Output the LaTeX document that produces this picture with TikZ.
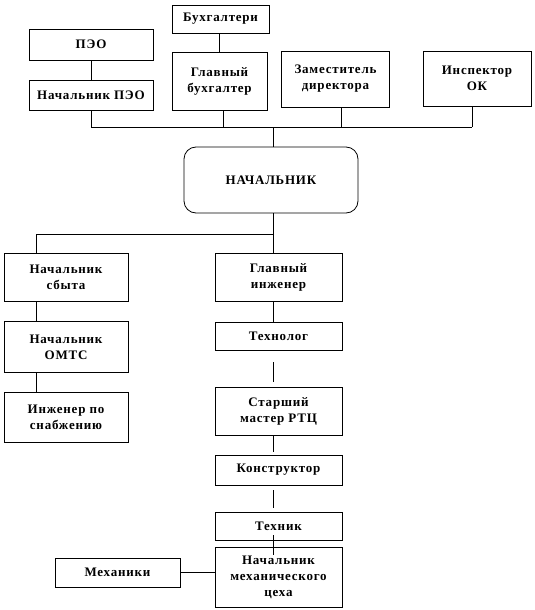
\documentclass[tikz,border=0pt]{standalone}
\usepackage{fontspec}
\newfontfamily\orgfont{Liberation Serif}[LetterSpace=6]

\begin{document}
\begin{tikzpicture}[x=1pt,y=-1pt,line width=0.8pt,
  unit/.style={draw,align=center,inner sep=0pt,
    font=\orgfont\bfseries\fontsize{13}{16}\selectfont},
  chief/.style={unit,rounded corners=12pt}]
\useasboundingbox (0,0) rectangle (535,610);
% top row
\node[unit,minimum width=97pt,minimum height=28pt] (buh) at (220.5,19) {Бухгалтери};
\node[unit,minimum width=124pt,minimum height=31pt] (peo) at (91,44.5) {ПЭО};
\node[unit,minimum width=124pt,minimum height=30pt] (npeo) at (91,95) {Начальник ПЭО};
\node[unit,minimum width=95pt,minimum height=58pt] (gbuh) at (219.5,81) {Главный\\бухгалтер};
\node[unit,minimum width=108pt,minimum height=56pt] (zam) at (335.5,79) {Заместитель\\директора};
\node[unit,minimum width=108pt,minimum height=55pt] (insp) at (477,78.5) {Инспектор\\ОК};
% chief
\node[chief,minimum width=174pt,minimum height=66pt] (nach) at (271,180) {НАЧАЛЬНИК};
% left column
\node[unit,minimum width=124pt,minimum height=48pt] (nsb) at (66,277) {Начальник\\сбыта};
\node[unit,minimum width=124pt,minimum height=51pt] (omts) at (66,347) {Начальник\\ОМТС};
\node[unit,minimum width=124pt,minimum height=50pt] (isn) at (66,417) {Инженер по\\снабжению};
% right column
\node[unit,minimum width=127pt,minimum height=48pt] (gi) at (278.5,277) {Главный\\инженер};
\node[unit,minimum width=127pt,minimum height=28pt] (tehn) at (278.5,336) {Технолог};
\node[unit,minimum width=127pt,minimum height=48pt] (smr) at (278.5,411) {Старший\\мастер РТЦ};
\node[unit,minimum width=127pt,minimum height=30pt] (kon) at (278.5,470) {Конструктор};
\node[unit,minimum width=127pt,minimum height=28pt] (teh) at (278.5,526) {Техник};
\node[unit,minimum width=127pt,minimum height=60pt] (nmc) at (278.5,577) {Начальник\\механического\\цеха};
\node[unit,minimum width=125pt,minimum height=29pt] (meh) at (117.5,572.5) {Механики};
% axes of the connectors
\coordinate (bus) at (0,127);
\coordinate (mid) at (273,0);
\coordinate (split) at (0,234);
\coordinate (lax) at (36,0);
% upper connectors
\draw (peo) -- (npeo);
\draw (buh.south -| gbuh) -- (gbuh);
\draw (npeo.south) -- (npeo.south |- bus) -- ([xshift=-5pt]insp.south |- bus);
\draw ([xshift=4pt]gbuh.south) -- ([xshift=4pt]gbuh.south |- bus);
\draw ([xshift=6pt]zam.south) -- ([xshift=6pt]zam.south |- bus);
\draw ([xshift=-5pt]insp.south) -- ([xshift=-5pt]insp.south |- bus);
\draw (mid |- bus) -- (nach.north -| mid);
% lower connectors
\draw (nach.south -| mid) -- (gi.north -| mid);
\draw (mid |- split) -- (lax |- split) -- (nsb.north -| lax);
\draw (nsb.south -| lax) -- (omts.north -| lax);
\draw (omts.south -| lax) -- (isn.north -| lax);
\draw (gi.south -| mid) -- (tehn.north -| mid);
\draw[shorten <=12pt,shorten >=5pt] (tehn.south -| mid) -- (smr.north -| mid);
\draw[shorten >=3pt] (smr.south -| mid) -- (kon.north -| mid);
\draw[shorten <=5pt,shorten >=4pt] (kon.south -| mid) -- (teh.north -| mid);
\draw ([yshift=5pt]teh.south -| mid) -- ([yshift=-8pt]nmc.north -| mid);
\draw (meh.east) -- (meh.east -| nmc.west);
\end{tikzpicture}
\end{document}
